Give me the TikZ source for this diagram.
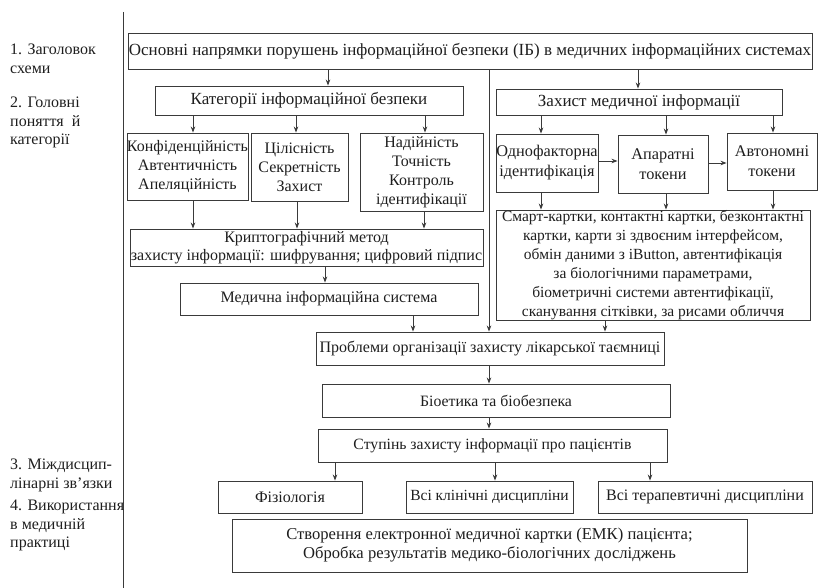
\documentclass[tikz,border=0pt]{standalone}
\usepackage{fontspec}
\setmainfont{Liberation Serif}
\usetikzlibrary{arrows.meta}
\definecolor{ln}{HTML}{3A3A3A}
\definecolor{tx}{HTML}{1E1E1E}
\newcommand{\fs}[2]{\fontsize{#1}{#2}\selectfont}
\begin{document}
\begin{tikzpicture}[x=1pt,y=-1pt,
  box/.style={draw=ln,line width=0.9pt,inner sep=0pt,align=center,text=tx,font=\fs{16}{19}},
  arr/.style={draw=ln,line width=0.8pt,-{Stealth[length=6pt,width=4.5pt]}},
  lbl/.style={anchor=north west,align=left,inner sep=0pt,text=tx,font=\fs{16}{18.5}}]
\useasboundingbox (0,0) rectangle (819,588);
% left rule
\draw[ln,line width=1pt] (123,12) -- (123,588);
% left labels
\node[lbl] (l1) at (10,44) {1. Заголовок\\схеми};
\node[lbl] (l2) at (10,97) {2. Головні\\поняття\ \ й\\категорії};
\node[lbl] (l3) at (10,459) {3. Міждисцип-\\лінарні зв’язки};
\node[lbl] (l4) at (10,500) {4. Використання\\в медичній\\практиці};
% boxes
\node[box,font=\fs{17}{20},minimum width=684,minimum height=36] (top) at (470,51) {Основні напрямки порушень інформаційної безпеки (ІБ) в медичних інформаційних системах};
\node[box,font=\fs{17}{20},minimum width=308,minimum height=29] (cat) at (309,100.5) {Категорії інформаційної безпеки};
\node[box,font=\fs{17}{20},minimum width=286,minimum height=26] (prot) at (639,102) {Захист медичної інформації};
\node[box,minimum width=119,minimum height=67] (A) at (187.5,166.5) {Конфіденційність\\Автентичність\\Апеляційність};
\node[box,minimum width=97,minimum height=68] (B) at (299.5,167) {Цілісність\\Секретність\\Захист};
\node[box,minimum width=123,minimum height=78] (C) at (421.5,172) {Надійність\\Точність\\Контроль\\ідентифікації};
\node[box,font=\fs{16}{17.5},minimum width=353,minimum height=37] (crypto) at (306.5,247.5) {Криптографічний метод\\захисту інформації: шифрування; цифровий підпис};
\node[box,minimum width=298,minimum height=32] (mis) at (329,299) {Медична інформаційна система};
\node[box,font=\fs{16.3}{20},minimum width=102,minimum height=58] (one) at (547,163) {Однофакторна\\ідентифікація};
\node[box,font=\fs{16.3}{20},minimum width=90,minimum height=58] (hw) at (663,164) {Апаратні\\токени};
\node[box,font=\fs{16.3}{20},minimum width=90,minimum height=57] (auto) at (772,161.5) {Автономні\\токени};
\node[box,font=\fs{15.5}{19},minimum width=314,minimum height=110] (smart) at (653,265) {Смарт-картки, контактні картки, безконтактні\\картки, карти зі здвоєним інтерфейсом,\\обмін даними з iButton, автентифікація\\за біологічними параметрами,\\біометричні системи автентифікації,\\сканування сітківки, за рисами обличчя};
\node[box,minimum width=348,minimum height=33] (prob) at (490,348.5) {Проблеми організації захисту лікарської таємниці};
\node[box,font=\fs{15.8}{19},minimum width=348,minimum height=33] (bio) at (496,400.5) {Біоетика та біобезпека};
\node[box,font=\fs{15.7}{19},minimum width=349,minimum height=33] (stp) at (492.5,445.5) {Ступінь захисту інформації про пацієнтів};
\node[box,minimum width=144,minimum height=32] (fiz) at (290,497) {Фізіологія};
\node[box,font=\fs{15.5}{19},minimum width=167,minimum height=32] (clin) at (489.5,497) {Всі клінічні дисципліни};
\node[box,minimum width=214,minimum height=32] (ther) at (705,497) {Всі терапевтичні дисципліни};
\node[box,font=\fs{16.6}{19},minimum width=515,minimum height=53] (emk) at (489.5,545.5) {Створення електронної медичної картки (ЕМК) пацієнта;\\Обробка результатів медико-біологічних досліджень};
% connectors
\draw[arr] (328,0 |- top.south) -- (328,0 |- cat.north);
\draw[arr] (638,0 |- top.south) -- (638,0 |- prot.north);
\draw[arr] (489,0 |- top.south) -- (489,0 |- prob.north);
\draw[arr] (193,0 |- cat.south) -- (193,0 |- A.north);
\draw[arr] (296,0 |- cat.south) -- (296,0 |- B.north);
\draw[arr] (425,0 |- cat.south) -- (425,0 |- C.north);
\draw[arr] (193,0 |- A.south) -- (193,0 |- crypto.north);
\draw[arr] (297,0 |- B.south) -- (297,0 |- crypto.north);
\draw[arr] (424,0 |- C.south) -- (424,0 |- crypto.north);
\draw[arr] (325,0 |- crypto.south) -- (325,0 |- mis.north);
\draw[arr] (413,0 |- mis.south) -- (413,0 |- prob.north);
\draw[arr] (541,0 |- prot.south) -- (541,0 |- one.north);
\draw[arr] (666,0 |- prot.south) -- (666,0 |- hw.north);
\draw[arr] (773,0 |- prot.south) -- (773,0 |- auto.north);
\draw[arr] (one.east |- 0,161) -- (hw.west |- 0,161);
\draw[arr] (hw.east |- 0,163) -- (auto.west |- 0,163);
\draw[arr] (541,0 |- one.south) -- (541,0 |- smart.north);
\draw[arr] (666,0 |- hw.south) -- (666,0 |- smart.north);
\draw[arr] (773,0 |- auto.south) -- (773,0 |- smart.north);
\draw[arr] (605,0 |- smart.south) -- (605,0 |- prob.north);
\draw[arr] (489,0 |- prob.south) -- (489,0 |- bio.north);
\draw[arr] (489,0 |- bio.south) -- (489,0 |- stp.north);
\draw[arr] (335,0 |- stp.south) -- (335,0 |- fiz.north);
\draw[arr] (495,0 |- stp.south) -- (495,0 |- clin.north);
\draw[arr] (650,0 |- stp.south) -- (650,0 |- ther.north);
\end{tikzpicture}
\end{document}
